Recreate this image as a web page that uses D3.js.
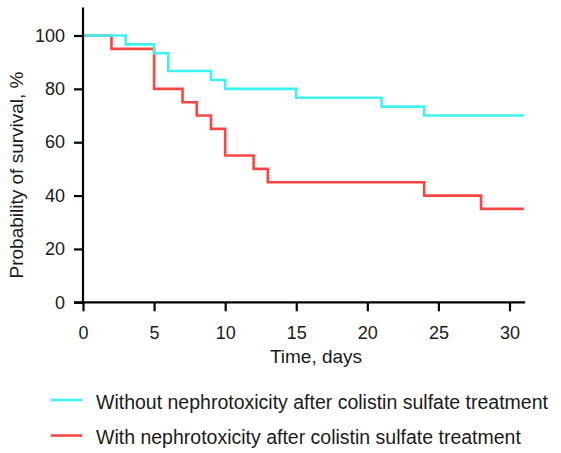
<!DOCTYPE html>
<html><head><meta charset="utf-8">
<script src="https://cdn.jsdelivr.net/npm/d3@7"></script>
<style>
html,body{margin:0;padding:0;background:#fff;}
svg text{font-family:"Liberation Sans",Arial,Helvetica,sans-serif;fill:#1a1a1a;}
</style></head>
<body>
<svg id="chart" width="561" height="453"></svg>
<script>
// Kaplan-Meier step data (time in days, survival %)
const seriesNames = ["Without nephrotoxicity after colistin sulfate treatment",
                     "With nephrotoxicity after colistin sulfate treatment"];
const seriesColors = ["#3ef2f2", "#ff4444"];
const withoutTimes = [0, 3, 5, 6, 9, 10, 15, 21, 24, 31];
const withoutSurv  = [100, 96.67, 93.33, 86.67, 83.33, 80, 76.67, 73.33, 70, 70];
const withTimes = [0, 2, 5, 7, 8, 9, 10, 12, 13, 24, 28, 31];
const withSurv  = [100, 95, 80, 75, 70, 65, 55, 50, 45, 40, 35, 35];
const xTicks = [0, 5, 10, 15, 20, 25, 30];
const yTicks = [0, 20, 40, 60, 80, 100];

const svg = d3.select("#chart");
const x = d3.scaleLinear().domain([0, 30]).range([83, 509.5]);
const y = d3.scaleLinear().domain([0, 100]).range([302.3, 35.5]);
const xMax = 31.1, yMax = 110.5;

const series = [
  withTimes.map((t,i)=>({t, s: withSurv[i]})),
  withoutTimes.map((t,i)=>({t, s: withoutSurv[i]}))
];
const colorsOrder = [seriesColors[1], seriesColors[0]];
const line = d3.line().x(d=>x(d.t)).y(d=>y(d.s)).curve(d3.curveStepAfter);
series.forEach((data,i)=>{
  svg.append("path").attr("d", line(data)).attr("fill","none")
    .attr("stroke", colorsOrder[i]).attr("stroke-width", 2.6);
});

// axes
const yAxis = svg.append("g").attr("transform", `translate(${x(0)},0)`)
  .call(d3.axisLeft(y).tickValues(yTicks).tickSizeOuter(0).tickSize(9).tickPadding(9));
yAxis.select(".domain").remove();
yAxis.append("line").attr("x1",0).attr("x2",0).attr("y1",y(0)+1).attr("y2",y(yMax)).attr("stroke","#000").attr("stroke-width",2.2);
const xAxis = svg.append("g").attr("transform", `translate(0,${y(0)})`)
  .call(d3.axisBottom(x).tickValues(xTicks).tickSizeOuter(0).tickSize(9).tickPadding(15));
xAxis.select(".domain").remove();
xAxis.append("line").attr("x1",x(0)-9).attr("x2",x(xMax)).attr("y1",0).attr("y2",0).attr("stroke","#000").attr("stroke-width",2.2);
svg.selectAll(".tick line").attr("stroke","#000").attr("stroke-width",2.2);
svg.selectAll(".tick text").attr("font-size",18).attr("fill","#1a1a1a")
  .attr("font-family","'Liberation Sans',Arial,sans-serif");

svg.append("text").attr("x", 316).attr("y", 363).attr("text-anchor","middle")
  .attr("font-size",19).text("Time, days");
svg.append("text").attr("transform","translate(23,175) rotate(-90)").attr("text-anchor","middle")
  .attr("font-size",19).text("Probability of survival, %");

// legend
const leg = svg.append("g");
seriesNames.forEach((name,i)=>{
  const ly = 400 + i*35.5;
  leg.append("line").attr("x1",51).attr("x2",82).attr("y1",ly).attr("y2",ly)
    .attr("stroke",seriesColors[i]).attr("stroke-width",2.6);
  leg.append("text").attr("x",96).attr("y",ly+8.5)
    .attr("font-size",19.5).text(name);
});
</script>
</body></html>
